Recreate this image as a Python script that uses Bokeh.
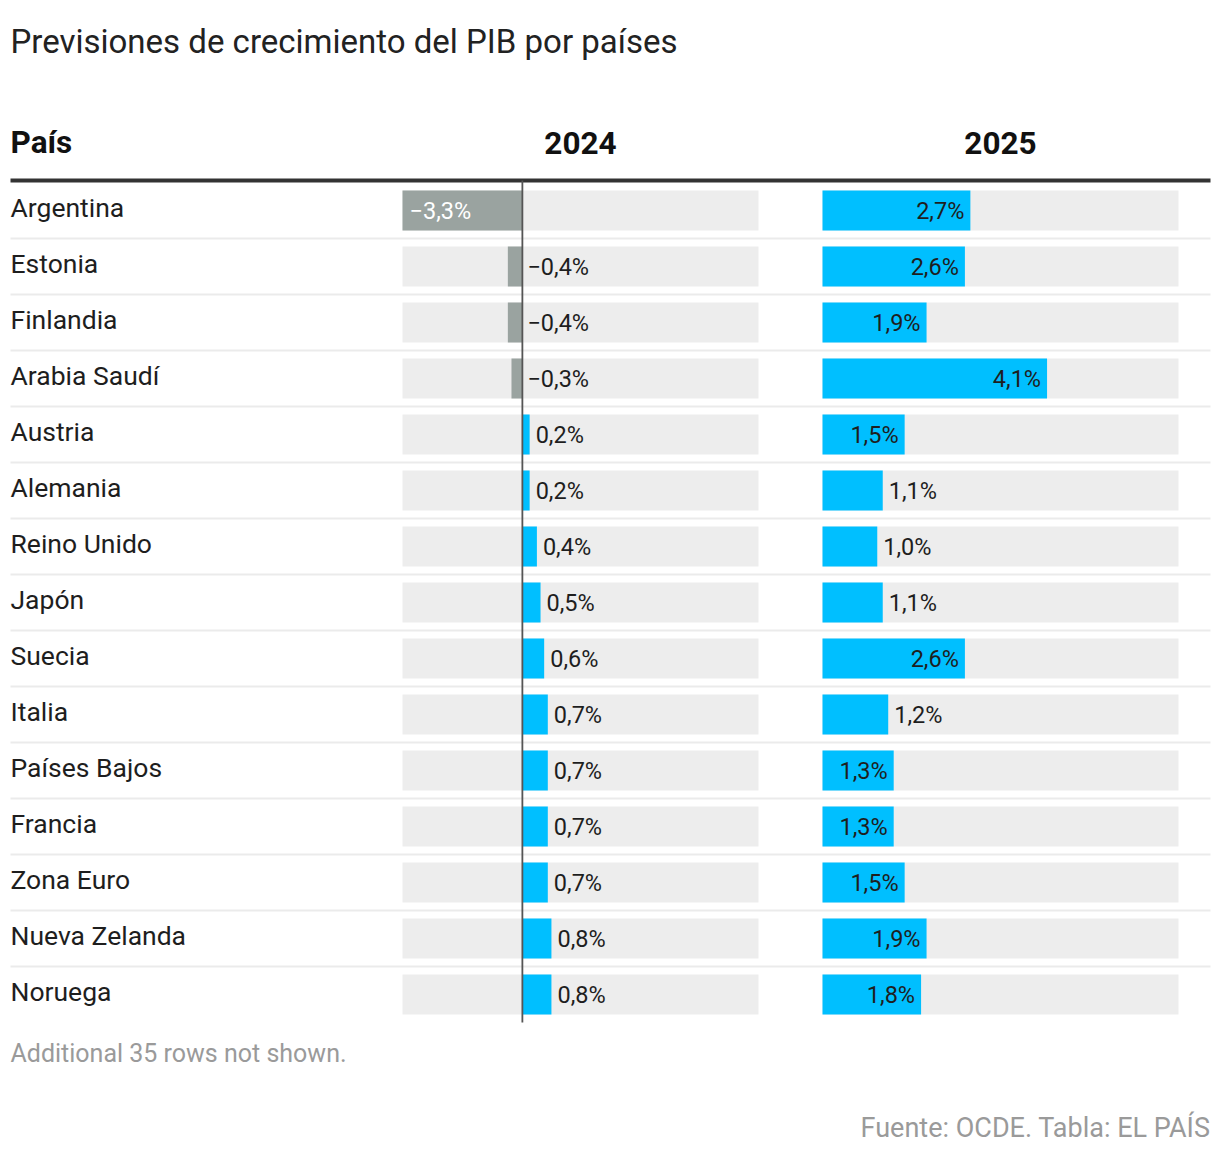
from bokeh.plotting import figure
from bokeh.models import ColumnDataSource, Range1d
from bokeh.core.properties import value
from bokeh.embed import file_html
from bokeh.resources import INLINE

# ---------------- data ----------------
countries = ["Argentina", "Estonia", "Finlandia", "Arabia Saudí", "Austria",
             "Alemania", "Reino Unido", "Japón", "Suecia", "Italia",
             "Países Bajos", "Francia", "Zona Euro", "Nueva Zelanda", "Noruega"]
g2024 = [-3.3, -0.4, -0.4, -0.3, 0.2, 0.2, 0.4, 0.5, 0.6, 0.7, 0.7, 0.7, 0.7, 0.8, 0.8]
g2025 = [2.7, 2.6, 1.9, 4.1, 1.5, 1.1, 1.0, 1.1, 2.6, 1.2, 1.3, 1.3, 1.5, 1.9, 1.8]
col_headers = ["País", "2024", "2025"]
title_text = "Previsiones de crecimiento del PIB por países"
note_text = "Additional 35 rows not shown."
source_text = "Fuente: OCDE. Tabla: EL PAÍS"
domain_max = 6.5

# ---------------- layout constants (pixels) ----------------
W, H = 1216, 1150
ROW0, PITCH = 210.0, 56.0      # centre of first row, row pitch
BAR_H = 40.0
LEFT, RIGHT = 10.0, 1210.0
C24_L, C24_R = 402.0, 758.0    # background extents of the 2024 column
C25_L, C25_R = 822.0, 1178.0   # background extents of the 2025 column
RULE_Y = 180.0
FONT = value("Roboto")

BLUE = "#00BFFF"
GREY_BAR = "#9AA3A0"
BG = "#EDEDED"
DARK = "#1E1E1E"


def row(px):
    return (px - ROW0) / PITCH


p = figure(width=W, height=H, output_backend="svg", toolbar_location=None,
           x_range=Range1d(0, W), y_range=Range1d(row(H), row(0)),
           x_axis_location=None, y_axis_location=None,
           min_border=0, min_border_left=0, min_border_right=0,
           min_border_top=0, min_border_bottom=0)
p.outline_line_color = None
p.grid.visible = False
p.background_fill_color = "white"
p.border_fill_color = "white"

# column scales (library ranges mapped to each column's pixel span)
lo24 = min(0.0, min(g2024))
k24 = (C24_R - C24_L) / (domain_max - lo24)
s24 = lo24 - C24_L / k24
p.extra_x_ranges["c24"] = Range1d(s24, s24 + W / k24)
lo25 = min(0.0, min(g2025))
k25 = (C25_R - C25_L) / (domain_max - lo25)
s25 = lo25 - C25_L / k25
p.extra_x_ranges["c25"] = Range1d(s25, s25 + W / k25)

n = len(countries)
ys = list(range(n))
bh = BAR_H / PITCH


def fmt(v):
    s = f"{abs(v):.1f}".replace(".", ",") + "%"
    return ("\u2212" + s) if v < 0 else s


# row separators
sep = [i + 0.5 for i in range(n - 1)]
p.segment(x0=[LEFT] * (n - 1), x1=[RIGHT] * (n - 1), y0=sep, y1=sep,
          line_color="#EBEBEB", line_width=2)

# header rule
p.segment(x0=[LEFT], x1=[RIGHT], y0=[row(RULE_Y)], y1=[row(RULE_Y)],
          line_color="#333333", line_width=4)

# backgrounds
p.hbar(y=ys, left=[lo24] * n, right=[domain_max] * n, height=bh,
       fill_color=BG, line_color=None, x_range_name="c24")
p.hbar(y=ys, left=[lo25] * n, right=[domain_max] * n, height=bh,
       fill_color=BG, line_color=None, x_range_name="c25")

# 2024 bars
src24 = ColumnDataSource(dict(
    y=ys, left=[min(0, v) for v in g2024], right=[max(0, v) for v in g2024],
    color=[GREY_BAR if v < 0 else BLUE for v in g2024]))
p.hbar(y="y", left="left", right="right", height=bh, fill_color="color",
       line_color=None, source=src24, x_range_name="c24")

# 2025 bars
src25 = ColumnDataSource(dict(y=ys, left=[0] * n, right=g2025))
p.hbar(y="y", left="left", right="right", height=bh, fill_color=BLUE,
       line_color=None, source=src25, x_range_name="c25")

# zero line 2024
p.segment(x0=[0], x1=[0], y0=[row(RULE_Y)], y1=[n - 0.5], line_color="#555555",
          line_width=1.8, x_range_name="c24")

LAB_SIZE = "23.5px"

# 2024 labels
lx, lt, lc, lo = [], [], [], []
for v in g2024:
    if v <= -1:
        lx.append(v); lo.append(7); lc.append("white")
    elif v < 0:
        lx.append(0); lo.append(5); lc.append(DARK)
    else:
        lx.append(v); lo.append(6); lc.append(DARK)
    lt.append(fmt(v))
p.text(x=lx, y=ys, text=lt, x_offset=lo, text_color=lc,
       text_align="left", text_baseline="middle", text_font=FONT,
       text_font_size=LAB_SIZE, x_range_name="c24")

# 2025 labels
lx, lt, la, lo = [], [], [], []
for v in g2025:
    lx.append(v); lt.append(fmt(v))
    if v >= 1.25:
        la.append("right"); lo.append(-6)
    else:
        la.append("left"); lo.append(6)
p.text(x=lx, y=ys, text=lt, x_offset=lo, text_align=la,
       text_color=DARK, text_baseline="middle", text_font=FONT,
       text_font_size=LAB_SIZE, x_range_name="c25")

# country names
p.text(x=[LEFT] * n, y=[i - 3 / PITCH for i in ys], text=countries, text_color=DARK,
       text_align="left", text_baseline="middle", text_font=FONT,
       text_font_size="26.5px")

# title
p.text(x=[LEFT], y=[row(41)], text=[title_text], text_color="#222222",
       text_align="left", text_baseline="middle", text_font=FONT,
       text_font_size="33px")

# column headers
hy = row(142)
p.text(x=[LEFT], y=[hy], text=[col_headers[0]], text_color="#111111",
       text_align="left", text_baseline="middle", text_font=FONT,
       text_font_size="31.5px", text_font_style="bold")
p.text(x=[(C24_L + C24_R) / 2], y=[hy], text=[col_headers[1]],
       text_color="#111111", text_align="center", text_baseline="middle",
       text_font=FONT, text_font_size="31.5px", text_font_style="bold")
p.text(x=[(C25_L + C25_R) / 2], y=[hy], text=[col_headers[2]],
       text_color="#111111", text_align="center", text_baseline="middle",
       text_font=FONT, text_font_size="31.5px", text_font_style="bold")

# footer
p.text(x=[LEFT], y=[row(1053)], text=[note_text], text_color="#9A9A9A",
       text_align="left", text_baseline="middle", text_font=FONT,
       text_font_size="25px")
p.text(x=[RIGHT], y=[row(1127)], text=[source_text], text_color="#9A9A9A",
       text_align="right", text_baseline="middle", text_font=FONT,
       text_font_size="27px")

open("out.html", "w").write(file_html(p, INLINE))
